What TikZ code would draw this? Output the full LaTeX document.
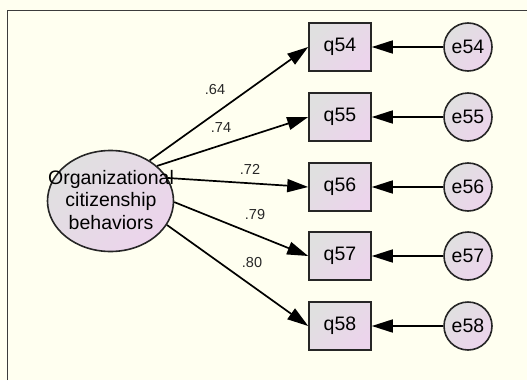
\documentclass[tikz,border=0pt]{standalone}
\usepackage{fontspec}
\setmainfont{Liberation Sans}
\usetikzlibrary{arrows.meta,shapes.geometric}
\definecolor{bg}{RGB}{255,255,240}
\definecolor{fillA}{RGB}{224,224,224}
\definecolor{fillB}{RGB}{236,212,236}
\definecolor{framec}{RGB}{60,60,60}
\definecolor{labc}{RGB}{40,40,40}
\begin{document}
\begin{tikzpicture}[x=1pt,y=-1pt,
  shadefill/.style={left color=fillA, right color=fillB, shading angle=45},
  obs/.style={rectangle, draw=black!85, line width=1.6pt, minimum width=62pt, minimum height=48pt, inner sep=0pt, shadefill, font=\fontsize{19.5}{22}\selectfont},
  err/.style={circle, draw=black!85, line width=1.6pt, minimum size=48pt, inner sep=0pt, shadefill, font=\fontsize{19.5}{22}\selectfont},
  lat/.style={ellipse, draw=black!85, line width=1.6pt, minimum width=126pt, minimum height=101pt, inner sep=0pt, shadefill},
  path/.style={line width=1.7pt, -{Triangle[length=21pt,width=13pt]}},
  coef/.style={font=\fontsize{14.5}{16}\selectfont, text=labc, inner sep=0pt}
]
\fill[bg] (0,0) rectangle (527,380);
\useasboundingbox (0,0) rectangle (527,380);
\draw[framec, line width=1pt] (7.5,380) -- (7.5,10.5) -- (527,10.5);

\node[lat] (ocb) at (110.5,201) {};
\node[align=center, font=\fontsize{19.5}{22.5}\selectfont, inner sep=0pt] (ocbtext) at (111,200) {Organizational\\citizenship\\behaviors};

\node[obs] (q54) at (340,47) {q54};
\node[obs] (q55) at (340,117) {q55};
\node[obs] (q56) at (340,187) {q56};
\node[obs] (q57) at (340,256) {q57};
\node[obs] (q58) at (340,326) {q58};

\node[err] (e54) at (468,47) {e54};
\node[err] (e55) at (468,117) {e55};
\node[err] (e56) at (468,187) {e56};
\node[err] (e57) at (468,256) {e57};
\node[err] (e58) at (468,326) {e58};

\draw[path] (ocb.46.8) -- (q54.west);
\draw[path] (ocb.37.9) -- (q55.west);
\draw[path] (ocb.22.8) -- (q56.west);
\draw[path] (ocb.-1) -- (q57.west);
\draw[path] (ocb.-23.5) -- (q58.west);

\foreach \i in {54,55,56,57,58}{
  \draw[path] (e\i.west) -- (q\i.east);
}

\node[coef] (l54) at (215,90) {.64};
\node[coef] (l55) at (221,128) {.74};
\node[coef] (l56) at (250,169) {.72};
\node[coef] (l57) at (255,215) {.79};
\node[coef] (l58) at (252,263) {.80};
\end{tikzpicture}
\end{document}
